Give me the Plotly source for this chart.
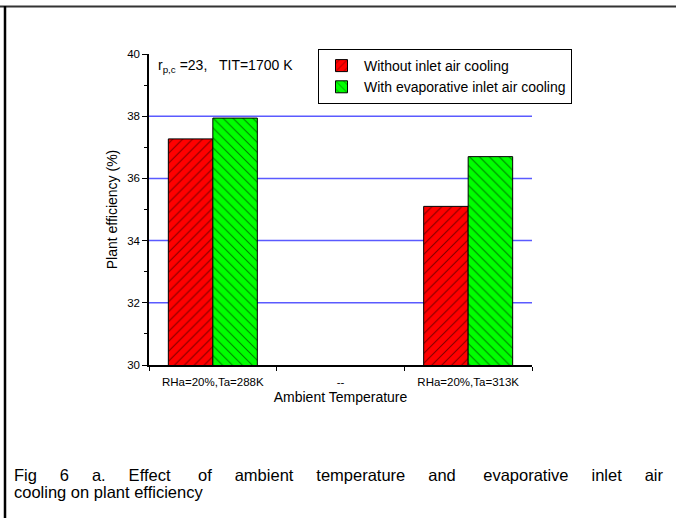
import plotly.graph_objects as go

categories = ["RHa=20%,Ta=288K", "--", "RHa=20%,Ta=313K"]
without_cooling = [37.27, None, 35.1]
with_cooling = [37.94, None, 36.7]
series_names = ["Without inlet air cooling", "With evaporative inlet air cooling"]
y_ticks = [30, 32, 34, 36, 38, 40]
grid_vals = [32, 34, 36, 38]

FONT = "Liberation Sans, Arial, sans-serif"

fig = go.Figure()
fig.add_trace(go.Bar(
    x=categories, y=without_cooling, name=series_names[0],
    marker=dict(color="#ff0000", line=dict(color="black", width=1),
                pattern=dict(shape="/", fgcolor="black", bgcolor="#ff0000",
                             size=7, solidity=0.15)),
))
fig.add_trace(go.Bar(
    x=categories, y=with_cooling, name=series_names[1],
    marker=dict(color="#00ff00", line=dict(color="black", width=1),
                pattern=dict(shape="\\", fgcolor="black", bgcolor="#00ff00",
                             size=7, solidity=0.15)),
))

W, H = 676, 518
L, R, T, B = 149, 144, 54, 153
pw, ph = W - L - R, H - T - B
def px(x):
    return (x - L) / pw
def py(y):
    return (H - B - y) / ph

shapes = []
for v in grid_vals:
    shapes.append(dict(type="line", xref="paper", yref="y", x0=0, x1=1, y0=v, y1=v,
                       line=dict(color="#5a5aff", width=1.5), layer="below"))
# page border (top and left)
shapes.append(dict(type="line", xref="paper", yref="paper", x0=px(0), x1=px(676),
                   y0=py(6.5), y1=py(6.5), line=dict(color="#333333", width=2)))
shapes.append(dict(type="line", xref="paper", yref="paper", x0=px(5), x1=px(5),
                   y0=py(6), y1=py(520), line=dict(color="black", width=2.5)))

caption_line1 = "Fig 6 a. Effect of ambient temperature and evaporative inlet air"
caption_line2 = "cooling on plant efficiency"
words = caption_line1.split(" ")
gaps = [5, 5, 5, 6, 5, 5, 5, 6, 5, 5]
line1 = words[0]
for w, g in zip(words[1:], gaps):
    line1 += "\u00a0" * g + w

annotations = [
    dict(text="r<sub>p,c</sub> =23,\u00a0\u00a0\u00a0TIT=1700 K", xref="paper", yref="paper",
         x=px(156), y=py(66), xanchor="left", yanchor="middle", showarrow=False,
         font=dict(size=14, color="black", family=FONT)),
    dict(text=line1, xref="paper", yref="paper",
         x=px(12), y=py(475), xanchor="left", yanchor="middle", align="left",
         showarrow=False, font=dict(size=16.5, color="black", family=FONT)),
    dict(text=caption_line2, xref="paper", yref="paper",
         x=px(12), y=py(492), xanchor="left", yanchor="middle", align="left",
         showarrow=False, font=dict(size=16.5, color="black", family=FONT)),
]

fig.update_layout(
    width=W, height=H, autosize=False,
    margin=dict(l=L, r=R, t=T, b=B),
    paper_bgcolor="white", plot_bgcolor="white",
    font=dict(family=FONT, color="black"),
    barmode="group", bargap=0.303, bargroupgap=0,
    showlegend=True,
    legend=dict(x=px(318), y=py(49), xanchor="left", yanchor="top",
                bordercolor="black", borderwidth=1, bgcolor="white",
                font=dict(size=14, family=FONT), itemwidth=35,
                tracegroupgap=0),
    shapes=shapes,
    annotations=annotations,
    xaxis=dict(
        type="category", categoryorder="array", categoryarray=categories,
        range=[-0.5, 2.5], showline=True, linecolor="black", linewidth=1.5,
        ticks="outside", tickson="boundaries", ticklen=4, tickcolor="black",
        ticklabelstandoff=5,
        tickfont=dict(size=11.5), showgrid=False, zeroline=False,
        title=dict(text="Ambient Temperature", font=dict(size=14), standoff=6),
    ),
    yaxis=dict(
        range=[30, 40], tickvals=y_ticks, showline=True, linecolor="black", linewidth=1.5,
        ticks="outside", ticklen=5, tickcolor="black", tickfont=dict(size=11.5),
        minor=dict(dtick=1, ticks="outside", ticklen=3, tickcolor="black", showgrid=False),
        showgrid=False, zeroline=False,
        title=dict(text="Plant efficiency (%)", font=dict(size=14), standoff=6),
    ),
)

fig.write_html("out.html", config={"displayModeBar": False},
               post_script="document.body.style.margin='0px';")
